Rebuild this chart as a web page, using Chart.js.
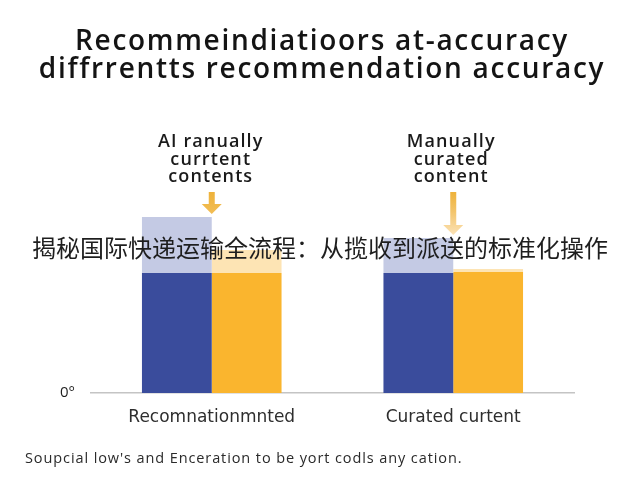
<!DOCTYPE html>
<html>
<head>
<meta charset="utf-8">
<script src="https://cdn.jsdelivr.net/npm/chart.js@4/dist/chart.umd.min.js"></script>
<style>
  html, body { margin: 0; padding: 0; background: #fff; }
  #wrap { position: relative; width: 640px; height: 480px; }
  #overlay {
    position: absolute; left: 0; top: 229px; width: 640px; text-align: center;
    font: 24px "Noto Sans CJK SC", sans-serif; color: #1e1e1e; white-space: nowrap;
  }
</style>
</head>
<body>
<div id="wrap">
  <canvas id="chart" width="640" height="480"></canvas>
  <div id="overlay">揭秘国际快递运输全流程：从揽收到派送的标准化操作</div>
</div>
<script>
/* Two-group accuracy bars with callout labels. */

const categories = ["Recomnationmnted", "Curated curtent"];
const blueBase = [60, 60];
const blueTop = [28, 17.5];
const orangeBase = [60, 60.5];
const orangeTop = [11.5, 1.5];
const yTicks = [0];
const titleLines = ["Recommeindiatioors at-accuracy", "diffrrentts recommendation accuracy"];
const calloutLines = [
  ["AI ranually", "currtent", "contents"],
  ["Manually", "curated", "content"],
];
const footerText = "Soupcial low's and Enceration to be yort codls any cation.";

const FONT = '"Open Sans", "Liberation Sans", sans-serif';
const WIDE = '"DejaVu Sans", sans-serif';

const textPlugin = {
  id: "texts",
  afterDraw(chart) {
    const { ctx, scales } = chart;
    const x = scales.x, y = scales.y;
    ctx.save();
    ctx.textAlign = "center";
    ctx.textBaseline = "middle";

    // title
    ctx.fillStyle = "#141414";
    ctx.font = `600 28px ${FONT}`;
    ctx.letterSpacing = "1.7px";
    ctx.fillText(titleLines[0], 322, 42);
    ctx.fillText(titleLines[1], 322, 70);

    // callouts + arrows
    calloutLines.forEach((lines, i) => {
      const cx = x.getPixelForValue(i);
      ctx.fillStyle = "#1a1a1a";
      ctx.font = `600 18px ${FONT}`;
      ctx.letterSpacing = "1.1px";
      lines.forEach((t, j) => ctx.fillText(t, cx + (i === 0 ? -1 : -2), 142 + j * 17.5));

      const tip = y.getPixelForValue(blueBase[i] + blueTop[i]) - 3;
      const shaftTop = 192;
      const headH = 10;
      const grad = ctx.createLinearGradient(0, shaftTop, 0, tip);
      if (i === 0) {
        grad.addColorStop(0, "#eeb23a");
        grad.addColorStop(1, "#f2bd55");
      } else {
        grad.addColorStop(0, "#eeb23a");
        grad.addColorStop(0.45, "#f3c46a");
        grad.addColorStop(1, "#fbe2b6");
      }
      ctx.fillStyle = grad;
      ctx.fillRect(cx - 3, shaftTop, 6, tip - headH - shaftTop);
      ctx.beginPath();
      ctx.moveTo(cx - 10, tip - headH);
      ctx.lineTo(cx + 10, tip - headH);
      ctx.lineTo(cx, tip);
      ctx.closePath();
      ctx.fill();
    });

    // footer
    ctx.textAlign = "left";
    ctx.fillStyle = "#2a2a2a";
    ctx.font = `14.5px ${FONT}`;
    ctx.letterSpacing = "0.9px";
    ctx.fillText(footerText, 25, 459);
    ctx.restore();
  },
};

new Chart(document.getElementById("chart"), {
  type: "bar",
  data: {
    labels: categories,
    datasets: [
      { label: "AI base", data: blueBase, backgroundColor: "#3a4c9c", stack: "blue" },
      { label: "AI top", data: blueTop, backgroundColor: "#c4cae4", stack: "blue" },
      { label: "Manual base", data: orangeBase, backgroundColor: "#fab52e", stack: "orange" },
      { label: "Manual top", data: orangeTop, backgroundColor: "#fde4b4", stack: "orange" },
    ],
  },
  options: {
    responsive: false,
    animation: false,
    categoryPercentage: 0.578,
    barPercentage: 1.0,
    layout: { padding: { top: 193, right: 66, bottom: 47, left: 0 } },
    plugins: { legend: { display: false }, title: { display: false }, tooltip: { enabled: false } },
    scales: {
      x: {
        stacked: true,
        grid: { display: false },
        border: { display: true, color: "#c4c4c4", width: 1.5 },
        ticks: { color: "#2e2e2e", font: { family: WIDE, size: 17 }, padding: 6 },
        afterFit: (s) => { s.height = 40; },
      },
      y: {
        stacked: true,
        min: 0,
        max: 100,
        grid: { display: false },
        border: { display: false },
        afterFit: (s) => { s.width = 91; },
        afterBuildTicks: (s) => { s.ticks = yTicks.map((v) => ({ value: v })); },
        ticks: { color: "#1e1e1e", font: { family: FONT, size: 15 }, padding: 8, callback: (v) => v + "°" },
      },
    },
  },
  plugins: [textPlugin],
});
</script>
</body>
</html>
